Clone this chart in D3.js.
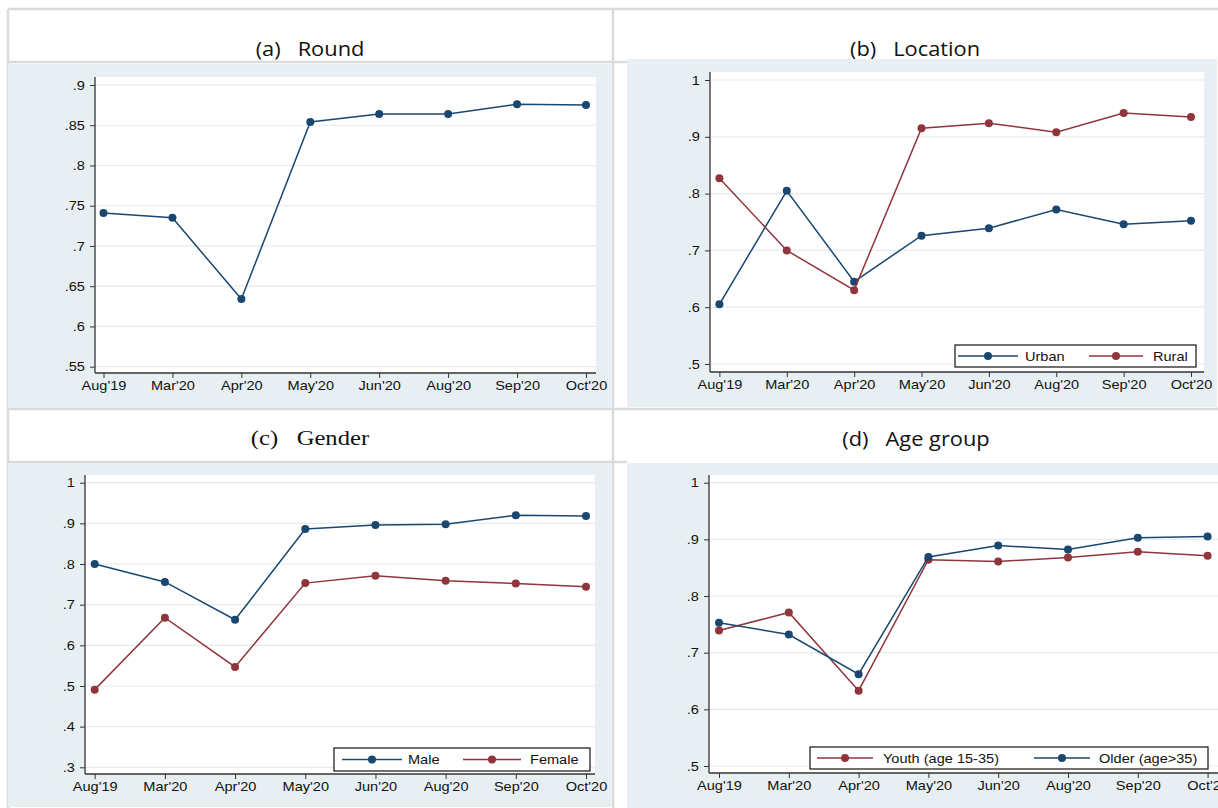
<!DOCTYPE html>
<html>
<head>
<meta charset="utf-8">
<script src="https://cdn.jsdelivr.net/npm/d3@7"></script>
<style>
  body { margin: 0; background: #fff; }
  svg { display: block; }
</style>
</head>
<body>
<svg id="chart" width="1218" height="808"></svg>
<script>
// survey rounds on the x axis
const rounds = ["Aug'19", "Mar'20", "Apr'20", "May'20", "Jun'20", "Aug'20", "Sep'20", "Oct'20"];

// (a) all respondents
const roundAll = [0.741, 0.735, 0.634, 0.854, 0.864, 0.864, 0.876, 0.875];
// (b) location
const urban = [0.605, 0.805, 0.645, 0.726, 0.739, 0.772, 0.746, 0.752];
const rural = [0.827, 0.700, 0.630, 0.915, 0.924, 0.908, 0.942, 0.935];
// (c) gender
const male = [0.800, 0.756, 0.663, 0.886, 0.896, 0.898, 0.920, 0.918];
const female = [0.491, 0.668, 0.547, 0.753, 0.771, 0.759, 0.752, 0.744];
// (d) age group
const youth = [0.739, 0.771, 0.633, 0.864, 0.861, 0.868, 0.878, 0.871];
const older = [0.753, 0.732, 0.662, 0.869, 0.889, 0.882, 0.903, 0.905];

// y tick values per panel
const ticksA = [0.55, 0.6, 0.65, 0.7, 0.75, 0.8, 0.85, 0.9];
const ticksB = [0.5, 0.6, 0.7, 0.8, 0.9, 1];
const ticksC = [0.3, 0.4, 0.5, 0.6, 0.7, 0.8, 0.9, 1];
const ticksD = [0.5, 0.6, 0.7, 0.8, 0.9, 1];

const navy = "#1a476f";
const maroon = "#90353b";
const stretch = "scale(1.12,1)";

const svg = d3.select("#chart");

// table borders of the document the figure sits in
const frame = svg.append("g")
	.attr("stroke", "#dadada")
	.attr("stroke-width", 2.5)
	.attr("fill", "none");
[[8, 9, 1218, 9], [8, 62, 627, 62], [8, 409, 1218, 409], [8, 462, 627, 462],
 [8, 9, 8, 808], [613, 9, 613, 808]].forEach(l => {
	frame.append("line").attr("x1", l[0]).attr("y1", l[1]).attr("x2", l[2]).attr("y2", l[3]);
});

const panels = [
	{
		title: "(a)   Round", serif: false, tx: 310, ty: 56,
		bg: [8, 64, 603, 344], plot: [95, 77, 596, 373],
		yDomain: [0.55, 0.9], yRange: [366.7, 85], xRange: [103.5, 586], ticks: ticksA,
		series: [{ name: "All", values: roundAll, color: navy }],
		legend: null
	},
	{
		title: "(b)   Location", serif: false, tx: 915, ty: 56,
		bg: [627, 59, 590, 348], plot: [710, 72, 1204, 372],
		yDomain: [0.5, 1], yRange: [364, 80], xRange: [719.4, 1191], ticks: ticksB,
		series: [{ name: "Urban", values: urban, color: navy },
		         { name: "Rural", values: rural, color: maroon }],
		legend: { box: [955, 345, 1196, 367], items: [[958, 1018, 1025], [1089, 1143, 1153]] }
	},
	{
		title: "(c)   Gender", serif: true, tx: 310, ty: 445,
		bg: [8, 463, 603, 344], plot: [85, 475, 595, 774],
		yDomain: [0.3, 1], yRange: [767.3, 482.7], xRange: [94.7, 586], ticks: ticksC,
		series: [{ name: "Male", values: male, color: navy },
		         { name: "Female", values: female, color: maroon }],
		legend: { box: [334, 748, 590, 771], items: [[342, 402, 408], [463, 521, 530]] }
	},
	{
		title: "(d)   Age group", serif: false, tx: 916, ty: 446,
		bg: [627, 463, 591, 345], plot: [709, 475, 1218, 773],
		yDomain: [0.5, 1], yRange: [766, 482.7], xRange: [719, 1207.6], ticks: ticksD,
		series: [{ name: "Youth (age 15-35)", values: youth, color: maroon },
		         { name: "Older (age>35)", values: older, color: navy }],
		legend: { box: [810, 747, 1208, 769], items: [[817, 873, 883], [1034, 1090, 1099]] }
	}
];

const fmt = d => d3.format(".2~f")(d).replace(/^0\./, ".");

panels.forEach(p => {
	const g = svg.append("g");

	g.append("text")
		.attr("transform", `translate(${p.tx},${p.ty}) ${stretch}`)
		.attr("text-anchor", "middle")
		.style("font-family", p.serif ? "'Liberation Serif', serif" : "'Open Sans', sans-serif")
		.style("font-size", p.serif ? "22px" : "19.5px")
		.style("white-space", "pre")
		.attr("fill", "#111")
		.text(p.title);

	g.append("rect")
		.attr("x", p.bg[0]).attr("y", p.bg[1])
		.attr("width", p.bg[2]).attr("height", p.bg[3])
		.attr("fill", "#e8eff2");

	const [px0, py0, px1, py1] = p.plot;
	g.append("rect")
		.attr("x", px0).attr("y", py0)
		.attr("width", px1 - px0).attr("height", py1 - py0)
		.attr("fill", "#fff");

	const x = d3.scalePoint().domain(rounds).range(p.xRange);
	const y = d3.scaleLinear().domain(p.yDomain).range(p.yRange);

	// grid
	g.append("g").selectAll("line")
		.data(p.ticks)
		.join("line")
		.attr("x1", px0).attr("x2", px1)
		.attr("y1", d => y(d)).attr("y2", d => y(d))
		.attr("stroke", "#e3ecef")
		.attr("stroke-width", 1.2);

	const yAxisG = g.append("g")
		.attr("transform", `translate(${px0},0)`)
		.call(d3.axisLeft(y).tickValues(p.ticks).tickFormat(fmt).tickSize(5).tickPadding(4));
	const xAxisG = g.append("g")
		.attr("transform", `translate(0,${py1})`)
		.call(d3.axisBottom(x).tickSize(5).tickPadding(3));

	[yAxisG, xAxisG].forEach(a => {
		a.select(".domain").remove();
		a.selectAll("line").attr("stroke", "#333");
		a.selectAll("text")
			.attr("fill", "#111")
			.style("font-family", "'Liberation Sans', Arial, sans-serif")
			.style("font-size", "13px")
			.attr("transform", stretch);
	});

	g.append("line")
		.attr("x1", px0).attr("x2", px0).attr("y1", py0).attr("y2", py1)
		.attr("stroke", "#333").attr("stroke-width", 1.3);
	g.append("line")
		.attr("x1", px0).attr("x2", px1).attr("y1", py1).attr("y2", py1)
		.attr("stroke", "#333").attr("stroke-width", 1.3);

	const line = d3.line()
		.x((d, i) => x(rounds[i]))
		.y(d => y(d));

	p.series.forEach(s => {
		g.append("path")
			.datum(s.values)
			.attr("d", line)
			.attr("fill", "none")
			.attr("stroke", s.color)
			.attr("stroke-width", 1.5);
		g.append("g").selectAll("circle")
			.data(s.values)
			.join("circle")
			.attr("cx", (d, i) => x(rounds[i]))
			.attr("cy", d => y(d))
			.attr("r", 4)
			.attr("fill", s.color);
	});

	if (p.legend) {
		const [lx0, ly0, lx1, ly1] = p.legend.box;
		const lg = g.append("g");
		lg.append("rect")
			.attr("x", lx0).attr("y", ly0)
			.attr("width", lx1 - lx0).attr("height", ly1 - ly0)
			.attr("fill", "#fff")
			.attr("stroke", "#111")
			.attr("stroke-width", 1.2);
		const ly = (ly0 + ly1) / 2;
		p.series.forEach((s, i) => {
			const [a, b, t] = p.legend.items[i];
			lg.append("line")
				.attr("x1", a).attr("x2", b).attr("y1", ly).attr("y2", ly)
				.attr("stroke", s.color).attr("stroke-width", 1.5);
			lg.append("circle")
				.attr("cx", (a + b) / 2).attr("cy", ly).attr("r", 4)
				.attr("fill", s.color);
			lg.append("text")
				.attr("transform", `translate(${t},${ly + 4.5}) ${stretch}`)
				.attr("fill", "#111")
				.style("font-family", "'Liberation Sans', Arial, sans-serif")
				.style("font-size", "13px")
				.text(s.name);
		});
	}
});
</script>
</body>
</html>
